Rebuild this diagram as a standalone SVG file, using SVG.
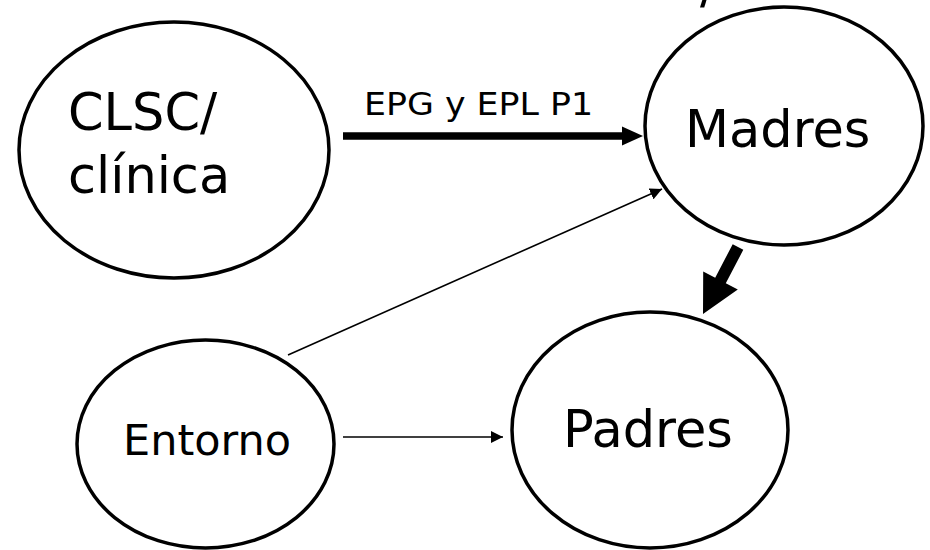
<svg xmlns="http://www.w3.org/2000/svg" width="930" height="550" viewBox="0 0 930 550">
<style>
.node{fill:#fff;stroke:#000;stroke-width:3.5}
.big{font-family:"DejaVu Sans",Verdana,sans-serif;font-size:51px;fill:#000}
.mid{font-family:"DejaVu Sans",Verdana,sans-serif;font-size:43px;fill:#000}
.lbl{font-family:"DejaVu Sans",Verdana,sans-serif;font-size:32px;fill:#000}
.thin{stroke:#000;stroke-width:1.6;fill:none}
</style>
<defs>
<marker id="ah" viewBox="0 0 12 12" refX="12" refY="6" markerWidth="12" markerHeight="12" markerUnits="userSpaceOnUse" orient="auto">
<path d="M0,0 L12,6 L0,12 Z" fill="#000"/>
</marker>
</defs>
<rect width="930" height="550" fill="#fff"/>
<text class="big" x="700" y="3">/</text>
<g id="clsc">
<ellipse class="node" cx="174" cy="150" rx="155" ry="128"/>
<text class="big" x="68" y="130">CLSC/</text>
<text class="big" x="68" y="193">clínica</text>
</g>
<g id="madres">
<ellipse class="node" cx="784" cy="126" rx="139" ry="119"/>
<text class="big" x="685" y="147">Madres</text>
</g>
<g id="padres">
<ellipse class="node" cx="650" cy="430" rx="138" ry="118"/>
<text class="big" x="563" y="447">Padres</text>
</g>
<g id="entorno">
<ellipse class="node" cx="205.5" cy="444" rx="128.5" ry="104"/>
<text class="mid" x="123" y="455">Entorno</text>
</g>
<g id="connectors">
<line x1="343" y1="136" x2="624" y2="136" stroke="#000" stroke-width="7.5"/>
<path d="M622,126.5 L643,136 L622,145.5 Z" fill="#000"/>
<text class="lbl" x="364" y="115" textLength="229" lengthAdjust="spacingAndGlyphs">EPG y EPL P1</text>
<polygon points="732.7,244.2 743.3,249.8 725.8,283.3 737.8,289.5 703,314 703.2,271.5 715.2,277.7" fill="#000"/>
<line class="thin" x1="288" y1="355" x2="662" y2="189" marker-end="url(#ah)"/>
<line class="thin" x1="343" y1="437" x2="503" y2="437" marker-end="url(#ah)"/>
</g>
</svg>
